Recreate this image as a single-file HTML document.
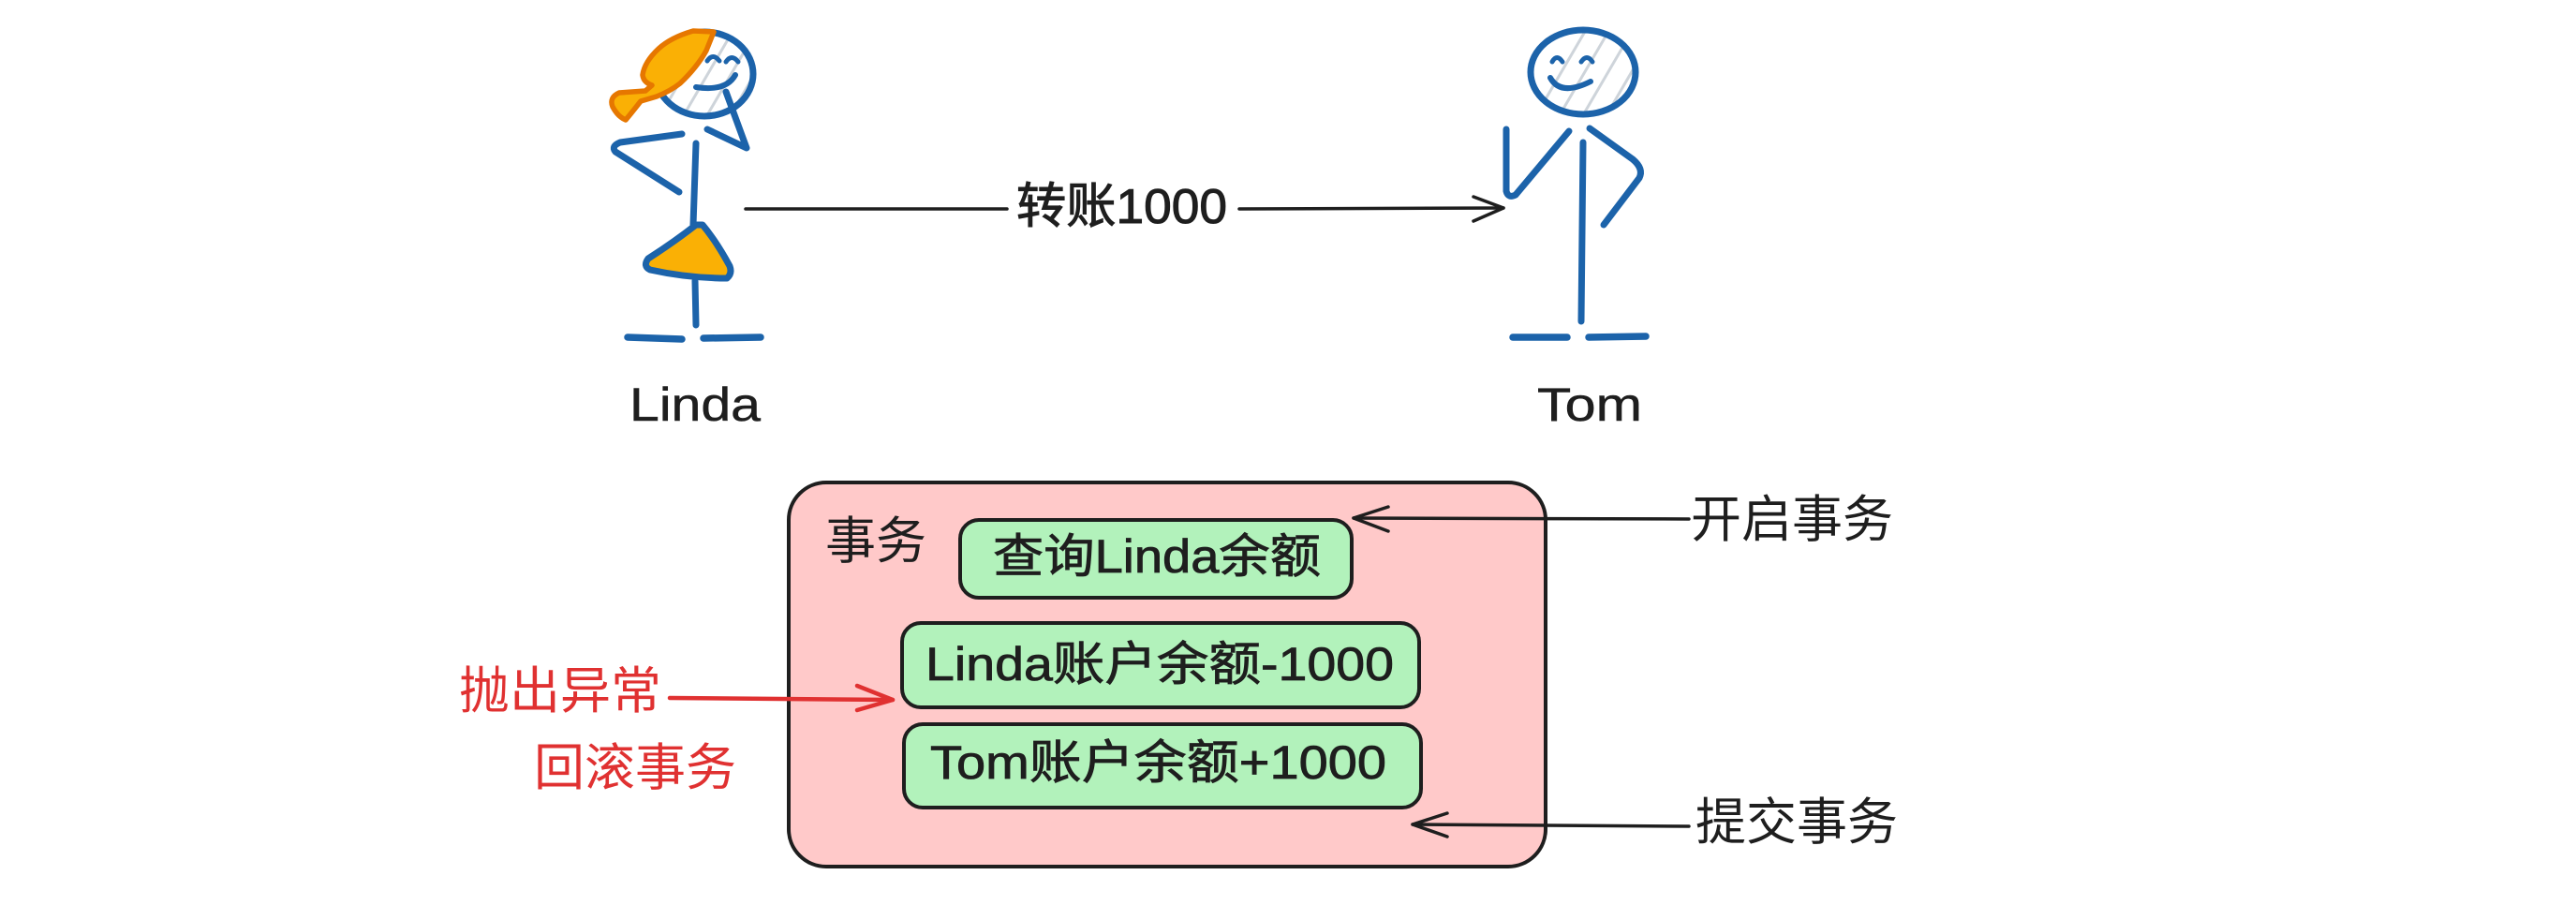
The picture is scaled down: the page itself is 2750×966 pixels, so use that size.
<!DOCTYPE html>
<html>
<head>
<meta charset="utf-8">
<style>
  html,body{margin:0;padding:0;background:#ffffff;}
  body{width:2750px;height:966px;overflow:hidden;}
  svg{display:block;}
  text{font-family:"Liberation Sans","Noto Sans CJK SC",sans-serif;}
</style>
</head>
<body>
<svg width="2750" height="966" viewBox="0 0 2750 966" xmlns="http://www.w3.org/2000/svg">
  <defs>
    <clipPath id="lhead"><ellipse cx="752" cy="79" rx="50" ry="43"/></clipPath>
    <clipPath id="thead"><ellipse cx="1690" cy="77" rx="54" ry="43"/></clipPath>
  </defs>
  <rect x="0" y="0" width="2750" height="966" fill="#ffffff"/>

  <!-- ============ LINDA ============ -->
  <g clip-path="url(#lhead)" stroke="#ced4da" stroke-width="3" fill="none">
    <line x1="790" y1="20" x2="720" y2="140"/>
    <line x1="815" y1="20" x2="745" y2="140"/>
    <line x1="840" y1="20" x2="770" y2="140"/>
    <line x1="765" y1="20" x2="695" y2="140"/>
  </g>
  <ellipse cx="752" cy="79" rx="52" ry="45" fill="none" stroke="#1c63aa" stroke-width="7"/>
  <!-- hair -->
  <path d="M762,34 L740,33 Q716,40 703,52 Q688,66 686,80 Q687,88 696,91 L689,97 L661,99 Q650,104 654,114 Q660,125 668,128 Q677,117 684,108 L701,103 Q716,97 726,89 Q744,72 754,54 Z"
        fill="#fab005" stroke="#e67700" stroke-width="5.5" stroke-linejoin="round"/>
  <!-- eyes -->
  <path d="M755,65 Q761,56 768,65" fill="none" stroke="#1c63aa" stroke-width="5" stroke-linecap="round"/>
  <path d="M775,66 Q781,57 788,66" fill="none" stroke="#1c63aa" stroke-width="5" stroke-linecap="round"/>
  <!-- smile -->
  <path d="M743,93 Q775,98 785,80" fill="none" stroke="#1c63aa" stroke-width="6" stroke-linecap="round"/>
  <!-- hand to chin -->
  <path d="M775,98 L797,158 L755,138" fill="none" stroke="#1c63aa" stroke-width="7" stroke-linecap="round" stroke-linejoin="round"/>
  <!-- left arm -->
  <path d="M728,143 L662,152 Q652,156 657,162 L725,205" fill="none" stroke="#1c63aa" stroke-width="7" stroke-linecap="round" stroke-linejoin="round"/>
  <!-- body -->
  <path d="M743,153 L740,240" fill="none" stroke="#1c63aa" stroke-width="7" stroke-linecap="round"/>
  <!-- dress -->
  <path d="M743,240 Q720,258 692,276 Q686,284 694,288 Q735,297 776,297 Q782,292 779,284 Q765,258 750,240 Z"
        fill="#fab005" stroke="#1c63aa" stroke-width="7" stroke-linejoin="round"/>
  <!-- leg -->
  <path d="M742,300 L743,347" fill="none" stroke="#1c63aa" stroke-width="7" stroke-linecap="round"/>
  <!-- feet -->
  <line x1="670" y1="360" x2="728" y2="362" stroke="#1c63aa" stroke-width="7.5" stroke-linecap="round"/>
  <line x1="751" y1="361" x2="812" y2="360" stroke="#1c63aa" stroke-width="7.5" stroke-linecap="round"/>

  <!-- ============ TOM ============ -->
  <g clip-path="url(#thead)" stroke="#ced4da" stroke-width="3" fill="none">
    <line x1="1700" y1="20" x2="1630" y2="140"/>
    <line x1="1725" y1="20" x2="1655" y2="140"/>
    <line x1="1750" y1="20" x2="1680" y2="140"/>
    <line x1="1775" y1="20" x2="1705" y2="140"/>
    <line x1="1800" y1="20" x2="1730" y2="140"/>
  </g>
  <ellipse cx="1690" cy="77" rx="56" ry="45" fill="none" stroke="#1c63aa" stroke-width="7"/>
  <path d="M1657,66 Q1662,57 1668,66" fill="none" stroke="#1c63aa" stroke-width="5" stroke-linecap="round"/>
  <path d="M1688,66 Q1694,57 1700,66" fill="none" stroke="#1c63aa" stroke-width="5" stroke-linecap="round"/>
  <path d="M1655,83 Q1666,103 1698,87" fill="none" stroke="#1c63aa" stroke-width="6" stroke-linecap="round"/>
  <!-- left arm -->
  <path d="M1608,138 L1608,204 Q1610,212 1618,208 L1675,140" fill="none" stroke="#1c63aa" stroke-width="7" stroke-linecap="round" stroke-linejoin="round"/>
  <!-- right arm -->
  <path d="M1697,137 L1743,170 Q1755,180 1750,190 L1712,240" fill="none" stroke="#1c63aa" stroke-width="7" stroke-linecap="round" stroke-linejoin="round"/>
  <!-- body -->
  <path d="M1690,152 L1688,343" fill="none" stroke="#1c63aa" stroke-width="7" stroke-linecap="round"/>
  <!-- feet -->
  <line x1="1615" y1="360" x2="1673" y2="360" stroke="#1c63aa" stroke-width="7.5" stroke-linecap="round"/>
  <line x1="1696" y1="360" x2="1757" y2="359" stroke="#1c63aa" stroke-width="7.5" stroke-linecap="round"/>

  <!-- ============ top arrow ============ -->
  <line x1="796" y1="223" x2="1075" y2="223" stroke="#1e1e1e" stroke-width="3.5" stroke-linecap="round"/>
  <line x1="1323" y1="223" x2="1605" y2="222" stroke="#1e1e1e" stroke-width="3.5" stroke-linecap="round"/>
  <path d="M1573,210 L1605,222 L1573,236" fill="none" stroke="#1e1e1e" stroke-width="3.5" stroke-linecap="round" stroke-linejoin="round"/>
  <text x="1085" y="238" font-size="52" fill="#1e1e1e" stroke="#1e1e1e" stroke-width="1" textLength="225" lengthAdjust="spacingAndGlyphs">转账1000</text>

  <!-- names -->
  <text x="672" y="449" font-size="50" fill="#1e1e1e" stroke="#1e1e1e" stroke-width="0.5" textLength="140" lengthAdjust="spacingAndGlyphs">Linda</text>
  <text x="1641" y="449" font-size="50" fill="#1e1e1e" stroke="#1e1e1e" stroke-width="0.5" textLength="112" lengthAdjust="spacingAndGlyphs">Tom</text>

  <!-- ============ transaction box ============ -->
  <rect x="842" y="515" width="808" height="410" rx="40" ry="40" fill="#ffc9c9" stroke="#1e1e1e" stroke-width="4"/>
  <text x="881" y="596" font-size="54" fill="#1e1e1e">事务</text>

  <rect x="1025" y="555" width="418" height="83" rx="20" ry="20" fill="#b2f2bb" stroke="#1e1e1e" stroke-width="4"/>
  <text x="1060" y="611" font-size="50" fill="#1e1e1e" stroke="#1e1e1e" stroke-width="0.8" textLength="350" lengthAdjust="spacingAndGlyphs">查询Linda余额</text>

  <rect x="963" y="665" width="552" height="90" rx="20" ry="20" fill="#b2f2bb" stroke="#1e1e1e" stroke-width="4"/>
  <text x="988" y="726" font-size="50" fill="#1e1e1e" stroke="#1e1e1e" stroke-width="0.8" textLength="500" lengthAdjust="spacingAndGlyphs">Linda账户余额-1000</text>

  <rect x="965" y="773" width="552" height="89" rx="20" ry="20" fill="#b2f2bb" stroke="#1e1e1e" stroke-width="4"/>
  <text x="993" y="831" font-size="50" fill="#1e1e1e" stroke="#1e1e1e" stroke-width="0.8" textLength="487" lengthAdjust="spacingAndGlyphs">Tom账户余额+1000</text>

  <!-- right arrows -->
  <line x1="1803" y1="554" x2="1445" y2="553" stroke="#1e1e1e" stroke-width="3.5" stroke-linecap="round"/>
  <path d="M1482,541 L1445,553 L1482,567" fill="none" stroke="#1e1e1e" stroke-width="3.5" stroke-linecap="round" stroke-linejoin="round"/>
  <text x="1805" y="573" font-size="54" fill="#1e1e1e">开启事务</text>

  <line x1="1803" y1="882" x2="1508" y2="880" stroke="#1e1e1e" stroke-width="3.5" stroke-linecap="round"/>
  <path d="M1545,868 L1508,880 L1545,893" fill="none" stroke="#1e1e1e" stroke-width="3.5" stroke-linecap="round" stroke-linejoin="round"/>
  <text x="1810" y="896" font-size="54" fill="#1e1e1e">提交事务</text>

  <!-- red arrow -->
  <line x1="715" y1="745" x2="953" y2="747" stroke="#e03131" stroke-width="4.5" stroke-linecap="round"/>
  <path d="M915,732 L953,747 L915,758" fill="none" stroke="#e03131" stroke-width="4.5" stroke-linecap="round" stroke-linejoin="round"/>
  <text x="490" y="756" font-size="54" fill="#e03131">抛出异常</text>
  <text x="570" y="838" font-size="54" fill="#e03131">回滚事务</text>
</svg>
</body>
</html>
